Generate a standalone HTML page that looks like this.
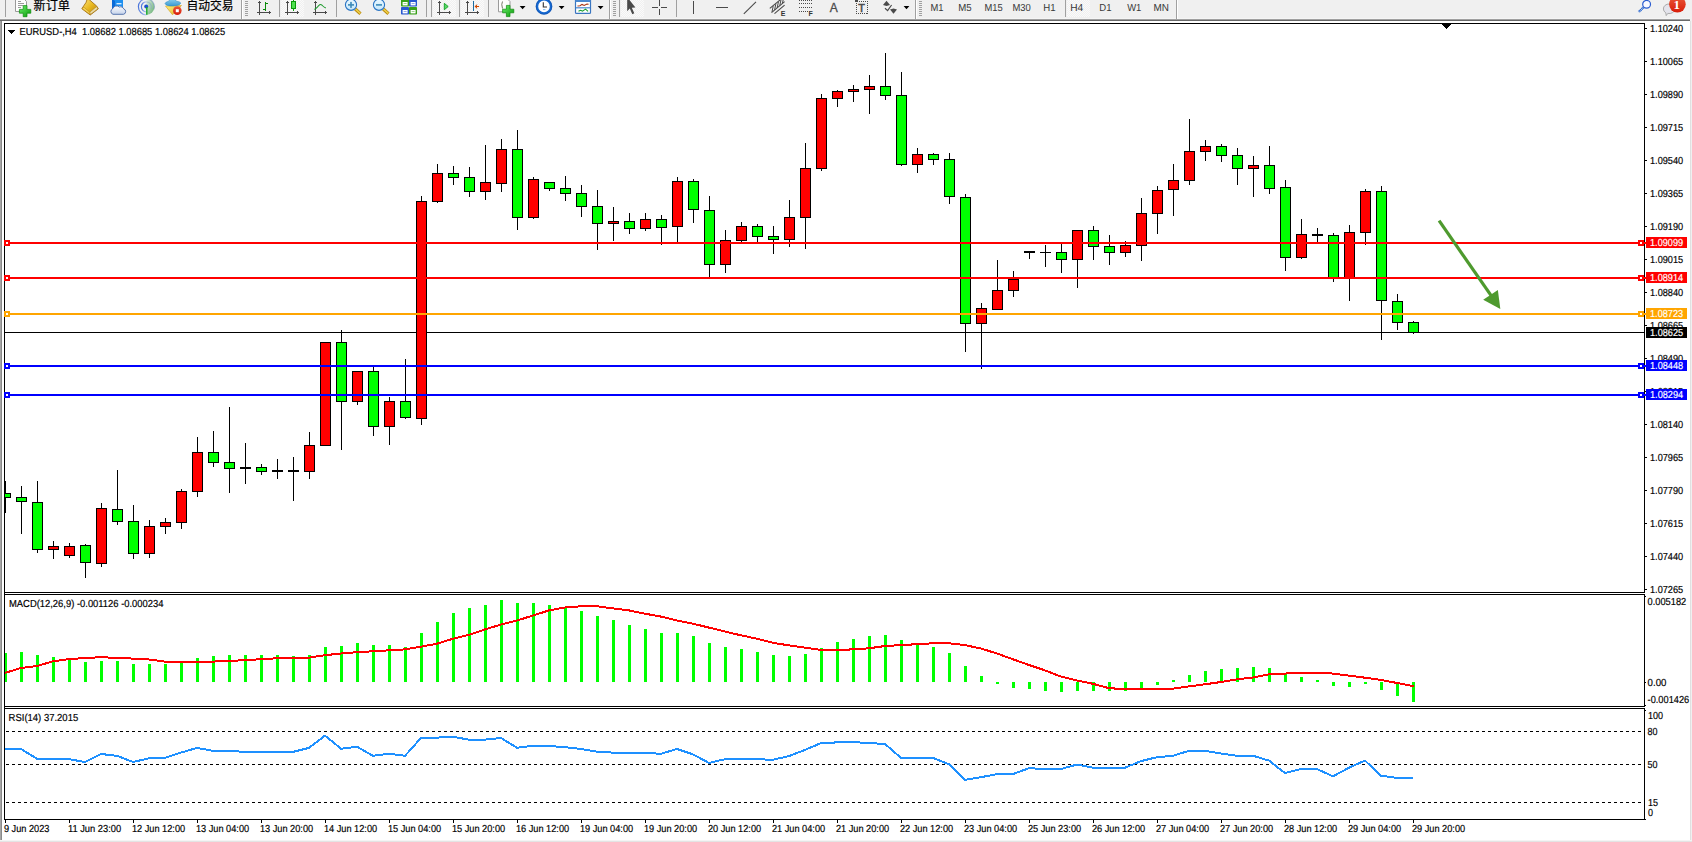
<!DOCTYPE html>
<html lang="zh-CN"><head><meta charset="utf-8"><title>EURUSD-,H4</title><style>html,body{margin:0;padding:0;background:#fff;overflow:hidden}svg text{font-kerning:normal}</style></head><body><svg width="1692" height="842" viewBox="0 0 1692 842" style="display:block"><rect x="0" y="0" width="1692" height="842" fill="#ffffff"/>
<rect x="0" y="0" width="1692" height="19" fill="#f0f0f0"/>
<rect x="0" y="18" width="1690" height="1" fill="#f5f5f5"/>
<rect x="0" y="19" width="1690" height="1" fill="#a0a0a0"/>
<rect x="0" y="20" width="1690" height="1" fill="#696969"/>
<rect x="0" y="21" width="1" height="819" fill="#a6a6a6"/>
<rect x="1" y="21" width="1" height="819" fill="#8a8a8a"/>
<rect x="1690" y="19" width="2" height="2" fill="#f0f0f0"/>
<rect x="1690" y="21" width="1" height="821" fill="#e0e0e0"/>
<rect x="1691" y="21" width="1" height="821" fill="#f0f0f0"/>
<rect x="0" y="840" width="1692" height="1" fill="#f4f4f4"/>
<rect x="0" y="841" width="1692" height="1" fill="#e4e4e4"/>
<rect x="4" y="23" width="1641" height="1" fill="#000"/>
<rect x="4" y="592" width="1641" height="1" fill="#000"/>
<rect x="4" y="23" width="1" height="570" fill="#000"/>
<rect x="1644" y="23" width="1" height="570" fill="#000"/>
<rect x="4" y="594" width="1641" height="1" fill="#000"/>
<rect x="4" y="706" width="1641" height="1" fill="#000"/>
<rect x="4" y="594" width="1" height="113" fill="#000"/>
<rect x="1644" y="594" width="1" height="113" fill="#000"/>
<rect x="4" y="708" width="1641" height="1" fill="#000"/>
<rect x="4" y="819" width="1641" height="1" fill="#000"/>
<rect x="4" y="708" width="1" height="112" fill="#000"/>
<rect x="1644" y="708" width="1" height="112" fill="#000"/>
<rect x="4" y="592" width="1" height="3" fill="#000"/>
<rect x="4" y="706" width="1" height="3" fill="#000"/>
<defs><clipPath id="cp"><rect x="5" y="24" width="1639" height="796"/></clipPath></defs>
<g clip-path="url(#cp)" shape-rendering="crispEdges">
<rect x="5" y="332" width="1641" height="1" fill="#000"/>
<rect x="5" y="481" width="1" height="32" fill="#000"/>
<rect x="0" y="493" width="11" height="5" fill="#000"/>
<rect x="1" y="494" width="9" height="3" fill="#00ff00"/>
<rect x="21" y="486" width="1" height="48" fill="#000"/>
<rect x="16" y="497" width="11" height="5" fill="#000"/>
<rect x="17" y="498" width="9" height="3" fill="#00ff00"/>
<rect x="37" y="481" width="1" height="72" fill="#000"/>
<rect x="32" y="502" width="11" height="48" fill="#000"/>
<rect x="33" y="503" width="9" height="46" fill="#00ff00"/>
<rect x="53" y="541" width="1" height="18" fill="#000"/>
<rect x="48" y="546" width="11" height="4" fill="#000"/>
<rect x="49" y="547" width="9" height="2" fill="#ff0000"/>
<rect x="69" y="543" width="1" height="15" fill="#000"/>
<rect x="64" y="546" width="11" height="10" fill="#000"/>
<rect x="65" y="547" width="9" height="8" fill="#ff0000"/>
<rect x="85" y="544" width="1" height="34" fill="#000"/>
<rect x="80" y="545" width="11" height="18" fill="#000"/>
<rect x="81" y="546" width="9" height="16" fill="#00ff00"/>
<rect x="101" y="503" width="1" height="64" fill="#000"/>
<rect x="96" y="508" width="11" height="56" fill="#000"/>
<rect x="97" y="509" width="9" height="54" fill="#ff0000"/>
<rect x="117" y="470" width="1" height="55" fill="#000"/>
<rect x="112" y="509" width="11" height="13" fill="#000"/>
<rect x="113" y="510" width="9" height="11" fill="#00ff00"/>
<rect x="133" y="505" width="1" height="54" fill="#000"/>
<rect x="128" y="521" width="11" height="33" fill="#000"/>
<rect x="129" y="522" width="9" height="31" fill="#00ff00"/>
<rect x="149" y="520" width="1" height="38" fill="#000"/>
<rect x="144" y="526" width="11" height="28" fill="#000"/>
<rect x="145" y="527" width="9" height="26" fill="#ff0000"/>
<rect x="165" y="518" width="1" height="16" fill="#000"/>
<rect x="160" y="522" width="11" height="5" fill="#000"/>
<rect x="161" y="523" width="9" height="3" fill="#ff0000"/>
<rect x="181" y="489" width="1" height="40" fill="#000"/>
<rect x="176" y="491" width="11" height="32" fill="#000"/>
<rect x="177" y="492" width="9" height="30" fill="#ff0000"/>
<rect x="197" y="437" width="1" height="60" fill="#000"/>
<rect x="192" y="452" width="11" height="40" fill="#000"/>
<rect x="193" y="453" width="9" height="38" fill="#ff0000"/>
<rect x="213" y="431" width="1" height="36" fill="#000"/>
<rect x="208" y="452" width="11" height="11" fill="#000"/>
<rect x="209" y="453" width="9" height="9" fill="#00ff00"/>
<rect x="229" y="407" width="1" height="86" fill="#000"/>
<rect x="224" y="462" width="11" height="7" fill="#000"/>
<rect x="225" y="463" width="9" height="5" fill="#00ff00"/>
<rect x="245" y="443" width="1" height="41" fill="#000"/>
<rect x="240" y="467" width="11" height="2" fill="#000"/>
<rect x="261" y="464" width="1" height="11" fill="#000"/>
<rect x="256" y="467" width="11" height="5" fill="#000"/>
<rect x="257" y="468" width="9" height="3" fill="#00ff00"/>
<rect x="277" y="459" width="1" height="20" fill="#000"/>
<rect x="272" y="470" width="11" height="2" fill="#000"/>
<rect x="293" y="457" width="1" height="44" fill="#000"/>
<rect x="288" y="470" width="11" height="2" fill="#000"/>
<rect x="309" y="432" width="1" height="47" fill="#000"/>
<rect x="304" y="445" width="11" height="27" fill="#000"/>
<rect x="305" y="446" width="9" height="25" fill="#ff0000"/>
<rect x="325" y="342" width="1" height="104" fill="#000"/>
<rect x="320" y="342" width="11" height="104" fill="#000"/>
<rect x="321" y="343" width="9" height="102" fill="#ff0000"/>
<rect x="341" y="330" width="1" height="120" fill="#000"/>
<rect x="336" y="342" width="11" height="60" fill="#000"/>
<rect x="337" y="343" width="9" height="58" fill="#00ff00"/>
<rect x="357" y="371" width="1" height="34" fill="#000"/>
<rect x="352" y="371" width="11" height="31" fill="#000"/>
<rect x="353" y="372" width="9" height="29" fill="#ff0000"/>
<rect x="373" y="367" width="1" height="69" fill="#000"/>
<rect x="368" y="371" width="11" height="56" fill="#000"/>
<rect x="369" y="372" width="9" height="54" fill="#00ff00"/>
<rect x="389" y="397" width="1" height="48" fill="#000"/>
<rect x="384" y="401" width="11" height="26" fill="#000"/>
<rect x="385" y="402" width="9" height="24" fill="#ff0000"/>
<rect x="405" y="359" width="1" height="60" fill="#000"/>
<rect x="400" y="401" width="11" height="17" fill="#000"/>
<rect x="401" y="402" width="9" height="15" fill="#00ff00"/>
<rect x="421" y="196" width="1" height="229" fill="#000"/>
<rect x="416" y="201" width="11" height="218" fill="#000"/>
<rect x="417" y="202" width="9" height="216" fill="#ff0000"/>
<rect x="437" y="164" width="1" height="39" fill="#000"/>
<rect x="432" y="173" width="11" height="29" fill="#000"/>
<rect x="433" y="174" width="9" height="27" fill="#ff0000"/>
<rect x="453" y="166" width="1" height="19" fill="#000"/>
<rect x="448" y="173" width="11" height="5" fill="#000"/>
<rect x="449" y="174" width="9" height="3" fill="#00ff00"/>
<rect x="469" y="167" width="1" height="30" fill="#000"/>
<rect x="464" y="177" width="11" height="15" fill="#000"/>
<rect x="465" y="178" width="9" height="13" fill="#00ff00"/>
<rect x="485" y="145" width="1" height="55" fill="#000"/>
<rect x="480" y="182" width="11" height="10" fill="#000"/>
<rect x="481" y="183" width="9" height="8" fill="#ff0000"/>
<rect x="501" y="139" width="1" height="53" fill="#000"/>
<rect x="496" y="149" width="11" height="35" fill="#000"/>
<rect x="497" y="150" width="9" height="33" fill="#ff0000"/>
<rect x="517" y="130" width="1" height="100" fill="#000"/>
<rect x="512" y="149" width="11" height="69" fill="#000"/>
<rect x="513" y="150" width="9" height="67" fill="#00ff00"/>
<rect x="533" y="177" width="1" height="42" fill="#000"/>
<rect x="528" y="179" width="11" height="39" fill="#000"/>
<rect x="529" y="180" width="9" height="37" fill="#ff0000"/>
<rect x="549" y="182" width="1" height="9" fill="#000"/>
<rect x="544" y="182" width="11" height="7" fill="#000"/>
<rect x="545" y="183" width="9" height="5" fill="#00ff00"/>
<rect x="565" y="176" width="1" height="25" fill="#000"/>
<rect x="560" y="188" width="11" height="6" fill="#000"/>
<rect x="561" y="189" width="9" height="4" fill="#00ff00"/>
<rect x="581" y="185" width="1" height="32" fill="#000"/>
<rect x="576" y="193" width="11" height="14" fill="#000"/>
<rect x="577" y="194" width="9" height="12" fill="#00ff00"/>
<rect x="597" y="190" width="1" height="60" fill="#000"/>
<rect x="592" y="206" width="11" height="18" fill="#000"/>
<rect x="593" y="207" width="9" height="16" fill="#00ff00"/>
<rect x="613" y="207" width="1" height="34" fill="#000"/>
<rect x="608" y="221" width="11" height="3" fill="#000"/>
<rect x="609" y="222" width="9" height="1" fill="#ff0000"/>
<rect x="629" y="213" width="1" height="21" fill="#000"/>
<rect x="624" y="221" width="11" height="8" fill="#000"/>
<rect x="625" y="222" width="9" height="6" fill="#00ff00"/>
<rect x="645" y="213" width="1" height="18" fill="#000"/>
<rect x="640" y="219" width="11" height="10" fill="#000"/>
<rect x="641" y="220" width="9" height="8" fill="#ff0000"/>
<rect x="661" y="215" width="1" height="30" fill="#000"/>
<rect x="656" y="219" width="11" height="9" fill="#000"/>
<rect x="657" y="220" width="9" height="7" fill="#00ff00"/>
<rect x="677" y="177" width="1" height="66" fill="#000"/>
<rect x="672" y="181" width="11" height="46" fill="#000"/>
<rect x="673" y="182" width="9" height="44" fill="#ff0000"/>
<rect x="693" y="179" width="1" height="44" fill="#000"/>
<rect x="688" y="181" width="11" height="29" fill="#000"/>
<rect x="689" y="182" width="9" height="27" fill="#00ff00"/>
<rect x="709" y="196" width="1" height="81" fill="#000"/>
<rect x="704" y="210" width="11" height="55" fill="#000"/>
<rect x="705" y="211" width="9" height="53" fill="#00ff00"/>
<rect x="725" y="230" width="1" height="43" fill="#000"/>
<rect x="720" y="240" width="11" height="25" fill="#000"/>
<rect x="721" y="241" width="9" height="23" fill="#ff0000"/>
<rect x="741" y="222" width="1" height="20" fill="#000"/>
<rect x="736" y="226" width="11" height="15" fill="#000"/>
<rect x="737" y="227" width="9" height="13" fill="#ff0000"/>
<rect x="757" y="224" width="1" height="18" fill="#000"/>
<rect x="752" y="226" width="11" height="11" fill="#000"/>
<rect x="753" y="227" width="9" height="9" fill="#00ff00"/>
<rect x="773" y="226" width="1" height="28" fill="#000"/>
<rect x="768" y="236" width="11" height="4" fill="#000"/>
<rect x="769" y="237" width="9" height="2" fill="#00ff00"/>
<rect x="789" y="200" width="1" height="47" fill="#000"/>
<rect x="784" y="217" width="11" height="23" fill="#000"/>
<rect x="785" y="218" width="9" height="21" fill="#ff0000"/>
<rect x="805" y="143" width="1" height="106" fill="#000"/>
<rect x="800" y="168" width="11" height="50" fill="#000"/>
<rect x="801" y="169" width="9" height="48" fill="#ff0000"/>
<rect x="821" y="94" width="1" height="77" fill="#000"/>
<rect x="816" y="98" width="11" height="71" fill="#000"/>
<rect x="817" y="99" width="9" height="69" fill="#ff0000"/>
<rect x="837" y="90" width="1" height="17" fill="#000"/>
<rect x="832" y="91" width="11" height="8" fill="#000"/>
<rect x="833" y="92" width="9" height="6" fill="#ff0000"/>
<rect x="853" y="85" width="1" height="17" fill="#000"/>
<rect x="848" y="89" width="11" height="3" fill="#000"/>
<rect x="849" y="90" width="9" height="1" fill="#ff0000"/>
<rect x="869" y="75" width="1" height="39" fill="#000"/>
<rect x="864" y="86" width="11" height="4" fill="#000"/>
<rect x="865" y="87" width="9" height="2" fill="#ff0000"/>
<rect x="885" y="53" width="1" height="47" fill="#000"/>
<rect x="880" y="86" width="11" height="10" fill="#000"/>
<rect x="881" y="87" width="9" height="8" fill="#00ff00"/>
<rect x="901" y="72" width="1" height="94" fill="#000"/>
<rect x="896" y="95" width="11" height="70" fill="#000"/>
<rect x="897" y="96" width="9" height="68" fill="#00ff00"/>
<rect x="917" y="148" width="1" height="25" fill="#000"/>
<rect x="912" y="154" width="11" height="11" fill="#000"/>
<rect x="913" y="155" width="9" height="9" fill="#ff0000"/>
<rect x="933" y="153" width="1" height="12" fill="#000"/>
<rect x="928" y="154" width="11" height="6" fill="#000"/>
<rect x="929" y="155" width="9" height="4" fill="#00ff00"/>
<rect x="949" y="153" width="1" height="51" fill="#000"/>
<rect x="944" y="159" width="11" height="38" fill="#000"/>
<rect x="945" y="160" width="9" height="36" fill="#00ff00"/>
<rect x="965" y="194" width="1" height="158" fill="#000"/>
<rect x="960" y="197" width="11" height="127" fill="#000"/>
<rect x="961" y="198" width="9" height="125" fill="#00ff00"/>
<rect x="981" y="303" width="1" height="66" fill="#000"/>
<rect x="976" y="308" width="11" height="16" fill="#000"/>
<rect x="977" y="309" width="9" height="14" fill="#ff0000"/>
<rect x="997" y="260" width="1" height="50" fill="#000"/>
<rect x="992" y="290" width="11" height="20" fill="#000"/>
<rect x="993" y="291" width="9" height="18" fill="#ff0000"/>
<rect x="1013" y="271" width="1" height="26" fill="#000"/>
<rect x="1008" y="279" width="11" height="12" fill="#000"/>
<rect x="1009" y="280" width="9" height="10" fill="#ff0000"/>
<rect x="1029" y="251" width="1" height="8" fill="#000"/>
<rect x="1024" y="251" width="11" height="2" fill="#000"/>
<rect x="1045" y="245" width="1" height="22" fill="#000"/>
<rect x="1040" y="252" width="11" height="1" fill="#000"/>
<rect x="1061" y="244" width="1" height="29" fill="#000"/>
<rect x="1056" y="252" width="11" height="8" fill="#000"/>
<rect x="1057" y="253" width="9" height="6" fill="#00ff00"/>
<rect x="1077" y="230" width="1" height="58" fill="#000"/>
<rect x="1072" y="230" width="11" height="30" fill="#000"/>
<rect x="1073" y="231" width="9" height="28" fill="#ff0000"/>
<rect x="1093" y="226" width="1" height="34" fill="#000"/>
<rect x="1088" y="230" width="11" height="17" fill="#000"/>
<rect x="1089" y="231" width="9" height="15" fill="#00ff00"/>
<rect x="1109" y="235" width="1" height="30" fill="#000"/>
<rect x="1104" y="246" width="11" height="7" fill="#000"/>
<rect x="1105" y="247" width="9" height="5" fill="#00ff00"/>
<rect x="1125" y="241" width="1" height="16" fill="#000"/>
<rect x="1120" y="245" width="11" height="8" fill="#000"/>
<rect x="1121" y="246" width="9" height="6" fill="#ff0000"/>
<rect x="1141" y="198" width="1" height="63" fill="#000"/>
<rect x="1136" y="213" width="11" height="33" fill="#000"/>
<rect x="1137" y="214" width="9" height="31" fill="#ff0000"/>
<rect x="1157" y="186" width="1" height="48" fill="#000"/>
<rect x="1152" y="190" width="11" height="24" fill="#000"/>
<rect x="1153" y="191" width="9" height="22" fill="#ff0000"/>
<rect x="1173" y="164" width="1" height="52" fill="#000"/>
<rect x="1168" y="180" width="11" height="10" fill="#000"/>
<rect x="1169" y="181" width="9" height="8" fill="#ff0000"/>
<rect x="1189" y="119" width="1" height="66" fill="#000"/>
<rect x="1184" y="151" width="11" height="30" fill="#000"/>
<rect x="1185" y="152" width="9" height="28" fill="#ff0000"/>
<rect x="1205" y="140" width="1" height="21" fill="#000"/>
<rect x="1200" y="146" width="11" height="6" fill="#000"/>
<rect x="1201" y="147" width="9" height="4" fill="#ff0000"/>
<rect x="1221" y="144" width="1" height="18" fill="#000"/>
<rect x="1216" y="146" width="11" height="10" fill="#000"/>
<rect x="1217" y="147" width="9" height="8" fill="#00ff00"/>
<rect x="1237" y="148" width="1" height="37" fill="#000"/>
<rect x="1232" y="155" width="11" height="14" fill="#000"/>
<rect x="1233" y="156" width="9" height="12" fill="#00ff00"/>
<rect x="1253" y="156" width="1" height="41" fill="#000"/>
<rect x="1248" y="165" width="11" height="4" fill="#000"/>
<rect x="1249" y="166" width="9" height="2" fill="#ff0000"/>
<rect x="1269" y="146" width="1" height="48" fill="#000"/>
<rect x="1264" y="165" width="11" height="24" fill="#000"/>
<rect x="1265" y="166" width="9" height="22" fill="#00ff00"/>
<rect x="1285" y="180" width="1" height="91" fill="#000"/>
<rect x="1280" y="187" width="11" height="71" fill="#000"/>
<rect x="1281" y="188" width="9" height="69" fill="#00ff00"/>
<rect x="1301" y="219" width="1" height="40" fill="#000"/>
<rect x="1296" y="234" width="11" height="24" fill="#000"/>
<rect x="1297" y="235" width="9" height="22" fill="#ff0000"/>
<rect x="1317" y="228" width="1" height="14" fill="#000"/>
<rect x="1312" y="234" width="11" height="2" fill="#000"/>
<rect x="1333" y="233" width="1" height="49" fill="#000"/>
<rect x="1328" y="235" width="11" height="43" fill="#000"/>
<rect x="1329" y="236" width="9" height="41" fill="#00ff00"/>
<rect x="1349" y="225" width="1" height="76" fill="#000"/>
<rect x="1344" y="232" width="11" height="46" fill="#000"/>
<rect x="1345" y="233" width="9" height="44" fill="#ff0000"/>
<rect x="1365" y="189" width="1" height="56" fill="#000"/>
<rect x="1360" y="191" width="11" height="42" fill="#000"/>
<rect x="1361" y="192" width="9" height="40" fill="#ff0000"/>
<rect x="1381" y="186" width="1" height="154" fill="#000"/>
<rect x="1376" y="191" width="11" height="110" fill="#000"/>
<rect x="1377" y="192" width="9" height="108" fill="#00ff00"/>
<rect x="1397" y="294" width="1" height="36" fill="#000"/>
<rect x="1392" y="301" width="11" height="22" fill="#000"/>
<rect x="1393" y="302" width="9" height="20" fill="#00ff00"/>
<rect x="1413" y="321" width="1" height="13" fill="#000"/>
<rect x="1408" y="322" width="11" height="11" fill="#000"/>
<rect x="1409" y="323" width="9" height="9" fill="#00ff00"/>
<rect x="4" y="653" width="3" height="29" fill="#00ff00"/>
<rect x="20" y="652" width="3" height="30" fill="#00ff00"/>
<rect x="36" y="655" width="3" height="27" fill="#00ff00"/>
<rect x="52" y="657" width="3" height="25" fill="#00ff00"/>
<rect x="68" y="660" width="3" height="22" fill="#00ff00"/>
<rect x="84" y="662" width="3" height="20" fill="#00ff00"/>
<rect x="100" y="661" width="3" height="21" fill="#00ff00"/>
<rect x="116" y="661" width="3" height="21" fill="#00ff00"/>
<rect x="132" y="664" width="3" height="18" fill="#00ff00"/>
<rect x="148" y="664" width="3" height="18" fill="#00ff00"/>
<rect x="164" y="664" width="3" height="18" fill="#00ff00"/>
<rect x="180" y="662" width="3" height="20" fill="#00ff00"/>
<rect x="196" y="658" width="3" height="24" fill="#00ff00"/>
<rect x="212" y="656" width="3" height="26" fill="#00ff00"/>
<rect x="228" y="655" width="3" height="27" fill="#00ff00"/>
<rect x="244" y="655" width="3" height="27" fill="#00ff00"/>
<rect x="260" y="655" width="3" height="27" fill="#00ff00"/>
<rect x="276" y="655" width="3" height="27" fill="#00ff00"/>
<rect x="292" y="656" width="3" height="26" fill="#00ff00"/>
<rect x="308" y="655" width="3" height="27" fill="#00ff00"/>
<rect x="324" y="647" width="3" height="35" fill="#00ff00"/>
<rect x="340" y="646" width="3" height="36" fill="#00ff00"/>
<rect x="356" y="643" width="3" height="39" fill="#00ff00"/>
<rect x="372" y="645" width="3" height="37" fill="#00ff00"/>
<rect x="388" y="645" width="3" height="37" fill="#00ff00"/>
<rect x="404" y="647" width="3" height="35" fill="#00ff00"/>
<rect x="420" y="633" width="3" height="49" fill="#00ff00"/>
<rect x="436" y="622" width="3" height="60" fill="#00ff00"/>
<rect x="452" y="613" width="3" height="69" fill="#00ff00"/>
<rect x="468" y="608" width="3" height="74" fill="#00ff00"/>
<rect x="484" y="605" width="3" height="77" fill="#00ff00"/>
<rect x="500" y="600" width="3" height="82" fill="#00ff00"/>
<rect x="516" y="603" width="3" height="79" fill="#00ff00"/>
<rect x="532" y="603" width="3" height="79" fill="#00ff00"/>
<rect x="548" y="605" width="3" height="77" fill="#00ff00"/>
<rect x="564" y="608" width="3" height="74" fill="#00ff00"/>
<rect x="580" y="611" width="3" height="71" fill="#00ff00"/>
<rect x="596" y="616" width="3" height="66" fill="#00ff00"/>
<rect x="612" y="620" width="3" height="62" fill="#00ff00"/>
<rect x="628" y="625" width="3" height="57" fill="#00ff00"/>
<rect x="644" y="629" width="3" height="53" fill="#00ff00"/>
<rect x="660" y="633" width="3" height="49" fill="#00ff00"/>
<rect x="676" y="633" width="3" height="49" fill="#00ff00"/>
<rect x="692" y="636" width="3" height="46" fill="#00ff00"/>
<rect x="708" y="643" width="3" height="39" fill="#00ff00"/>
<rect x="724" y="647" width="3" height="35" fill="#00ff00"/>
<rect x="740" y="649" width="3" height="33" fill="#00ff00"/>
<rect x="756" y="652" width="3" height="30" fill="#00ff00"/>
<rect x="772" y="655" width="3" height="27" fill="#00ff00"/>
<rect x="788" y="656" width="3" height="26" fill="#00ff00"/>
<rect x="804" y="654" width="3" height="28" fill="#00ff00"/>
<rect x="820" y="648" width="3" height="34" fill="#00ff00"/>
<rect x="836" y="642" width="3" height="40" fill="#00ff00"/>
<rect x="852" y="639" width="3" height="43" fill="#00ff00"/>
<rect x="868" y="636" width="3" height="46" fill="#00ff00"/>
<rect x="884" y="635" width="3" height="47" fill="#00ff00"/>
<rect x="900" y="640" width="3" height="42" fill="#00ff00"/>
<rect x="916" y="643" width="3" height="39" fill="#00ff00"/>
<rect x="932" y="647" width="3" height="35" fill="#00ff00"/>
<rect x="948" y="653" width="3" height="29" fill="#00ff00"/>
<rect x="964" y="666" width="3" height="16" fill="#00ff00"/>
<rect x="980" y="676" width="3" height="6" fill="#00ff00"/>
<rect x="996" y="682" width="3" height="2" fill="#00ff00"/>
<rect x="1012" y="682" width="3" height="6" fill="#00ff00"/>
<rect x="1028" y="682" width="3" height="7" fill="#00ff00"/>
<rect x="1044" y="682" width="3" height="9" fill="#00ff00"/>
<rect x="1060" y="682" width="3" height="10" fill="#00ff00"/>
<rect x="1076" y="682" width="3" height="9" fill="#00ff00"/>
<rect x="1092" y="682" width="3" height="9" fill="#00ff00"/>
<rect x="1108" y="682" width="3" height="9" fill="#00ff00"/>
<rect x="1124" y="682" width="3" height="9" fill="#00ff00"/>
<rect x="1140" y="682" width="3" height="6" fill="#00ff00"/>
<rect x="1156" y="682" width="3" height="3" fill="#00ff00"/>
<rect x="1172" y="680" width="3" height="2" fill="#00ff00"/>
<rect x="1188" y="675" width="3" height="7" fill="#00ff00"/>
<rect x="1204" y="671" width="3" height="11" fill="#00ff00"/>
<rect x="1220" y="669" width="3" height="13" fill="#00ff00"/>
<rect x="1236" y="668" width="3" height="14" fill="#00ff00"/>
<rect x="1252" y="667" width="3" height="15" fill="#00ff00"/>
<rect x="1268" y="668" width="3" height="14" fill="#00ff00"/>
<rect x="1284" y="674" width="3" height="8" fill="#00ff00"/>
<rect x="1300" y="677" width="3" height="5" fill="#00ff00"/>
<rect x="1316" y="680" width="3" height="2" fill="#00ff00"/>
<rect x="1332" y="682" width="3" height="4" fill="#00ff00"/>
<rect x="1348" y="682" width="3" height="5" fill="#00ff00"/>
<rect x="1364" y="682" width="3" height="2" fill="#00ff00"/>
<rect x="1380" y="682" width="3" height="8" fill="#00ff00"/>
<rect x="1396" y="682" width="3" height="14" fill="#00ff00"/>
<rect x="1412" y="682" width="3" height="20" fill="#00ff00"/>
<polyline points="5,672.9 21,668.0 37,666.0 53,661.3 69,659.1 85,658.0 101,657.2 117,657.9 133,658.6 149,659.5 165,661.6 181,661.6 197,661.6 213,661.6 229,660.9 245,660.2 261,659.2 277,658.3 293,657.9 309,657.6 325,655.2 341,653.5 357,652.2 373,651.3 389,650.3 405,649.4 421,646.7 437,643.7 453,638.7 469,634.8 485,629.4 501,624.6 517,620.5 533,615.5 549,610.4 565,607.5 581,606.3 597,606.3 613,608.4 629,610.4 645,613.7 661,616.6 677,620.5 693,623.7 709,627.6 725,631.6 741,635.3 757,638.7 773,642.8 789,645.4 805,647.6 821,649.9 837,649.9 853,649.4 869,648.3 885,646.0 901,645.1 917,644.2 933,643.3 949,643.3 965,645.1 981,648.5 997,653.5 1013,659.3 1029,665.0 1045,670.4 1061,676.6 1077,680.5 1093,683.8 1109,688.2 1125,689.1 1141,689.1 1157,689.1 1173,688.7 1189,686.4 1205,684.3 1221,682.0 1237,679.3 1253,677.5 1269,674.3 1285,673.6 1301,672.5 1317,672.5 1333,673.6 1349,675.6 1365,677.7 1381,679.9 1397,683.0 1413,686.0" fill="none" stroke="#ff0000" stroke-width="2" stroke-linejoin="round" stroke-linecap="square"/>
<line x1="6" y1="731.5" x2="1644" y2="731.5" stroke="#000" stroke-width="1" stroke-dasharray="3 3"/>
<line x1="6" y1="764.5" x2="1644" y2="764.5" stroke="#000" stroke-width="1" stroke-dasharray="3 3"/>
<line x1="6" y1="802.5" x2="1644" y2="802.5" stroke="#000" stroke-width="1" stroke-dasharray="3 3"/>
<polyline points="5,749.0 21,749.0 37,758.8 53,758.8 69,759.2 85,762.0 101,754.0 117,755.8 133,762.0 149,758.3 165,757.9 181,752.6 197,747.9 213,750.8 229,750.8 245,751.9 261,751.9 277,751.9 293,751.9 309,747.9 325,735.6 341,748.7 357,746.7 373,755.8 389,753.8 405,755.8 421,738.0 437,737.6 453,736.9 469,739.6 485,739.6 501,738.0 517,747.8 533,745.8 549,746.0 565,747.2 581,749.0 597,751.7 613,752.6 629,752.9 645,752.9 661,753.8 677,749.0 693,754.4 709,762.9 725,759.2 741,758.8 757,759.3 773,759.7 789,756.1 805,749.9 821,743.1 837,742.4 853,742.1 869,743.0 885,744.0 901,757.9 917,757.9 933,757.9 949,764.2 965,779.8 981,777.2 997,774.1 1013,774.0 1029,768.2 1045,769.0 1061,769.0 1077,764.5 1093,767.7 1109,768.1 1125,767.7 1141,761.1 1157,757.2 1173,755.8 1189,750.8 1205,750.8 1221,753.5 1237,755.8 1253,755.8 1269,760.6 1285,773.1 1301,769.1 1317,769.1 1333,776.3 1349,767.7 1365,760.6 1381,775.7 1397,777.9 1413,777.9" fill="none" stroke="#1e90ff" stroke-width="2" stroke-linejoin="round"/>
</g>
<g shape-rendering="crispEdges">
<rect x="5" y="242" width="1641" height="2" fill="#ff0000"/>
<rect x="4" y="240" width="6" height="6" fill="#ff0000"/>
<rect x="6" y="242" width="2" height="2" fill="#fff"/>
<rect x="1638" y="240" width="6" height="6" fill="#ff0000"/>
<rect x="1640" y="242" width="2" height="2" fill="#fff"/>
<rect x="1646" y="237" width="41" height="11" fill="#ff0000"/>
<rect x="5" y="277" width="1641" height="2" fill="#ff0000"/>
<rect x="4" y="275" width="6" height="6" fill="#ff0000"/>
<rect x="6" y="277" width="2" height="2" fill="#fff"/>
<rect x="1638" y="275" width="6" height="6" fill="#ff0000"/>
<rect x="1640" y="277" width="2" height="2" fill="#fff"/>
<rect x="1646" y="272" width="41" height="11" fill="#ff0000"/>
<rect x="5" y="313" width="1641" height="2" fill="#ffa500"/>
<rect x="4" y="311" width="6" height="6" fill="#ffa500"/>
<rect x="6" y="313" width="2" height="2" fill="#fff"/>
<rect x="1638" y="311" width="6" height="6" fill="#ffa500"/>
<rect x="1640" y="313" width="2" height="2" fill="#fff"/>
<rect x="1646" y="308" width="41" height="11" fill="#ffa500"/>
<rect x="5" y="365" width="1641" height="2" fill="#0000ff"/>
<rect x="4" y="363" width="6" height="6" fill="#0000ff"/>
<rect x="6" y="365" width="2" height="2" fill="#fff"/>
<rect x="1638" y="363" width="6" height="6" fill="#0000ff"/>
<rect x="1640" y="365" width="2" height="2" fill="#fff"/>
<rect x="1646" y="360" width="41" height="11" fill="#0000ff"/>
<rect x="5" y="394" width="1641" height="2" fill="#0000ff"/>
<rect x="4" y="392" width="6" height="6" fill="#0000ff"/>
<rect x="6" y="394" width="2" height="2" fill="#fff"/>
<rect x="1638" y="392" width="6" height="6" fill="#0000ff"/>
<rect x="1640" y="394" width="2" height="2" fill="#fff"/>
<rect x="1646" y="389" width="41" height="11" fill="#0000ff"/>
<rect x="1646" y="327" width="41" height="11" fill="#000"/>
<polygon points="1441,23 1452,23 1446.5,29" fill="#000" shape-rendering="crispEdges"/>
<rect x="1645" y="28" width="2" height="1" fill="#000"/>
<rect x="1645" y="61" width="2" height="1" fill="#000"/>
<rect x="1645" y="94" width="2" height="1" fill="#000"/>
<rect x="1645" y="127" width="2" height="1" fill="#000"/>
<rect x="1645" y="160" width="2" height="1" fill="#000"/>
<rect x="1645" y="193" width="2" height="1" fill="#000"/>
<rect x="1645" y="226" width="2" height="1" fill="#000"/>
<rect x="1645" y="259" width="2" height="1" fill="#000"/>
<rect x="1645" y="292" width="2" height="1" fill="#000"/>
<rect x="1645" y="325" width="2" height="1" fill="#000"/>
<rect x="1645" y="358" width="2" height="1" fill="#000"/>
<rect x="1645" y="391" width="2" height="1" fill="#000"/>
<rect x="1645" y="424" width="2" height="1" fill="#000"/>
<rect x="1645" y="457" width="2" height="1" fill="#000"/>
<rect x="1645" y="490" width="2" height="1" fill="#000"/>
<rect x="1645" y="523" width="2" height="1" fill="#000"/>
<rect x="1645" y="556" width="2" height="1" fill="#000"/>
<rect x="1645" y="589" width="2" height="1" fill="#000"/>
<rect x="1645" y="596" width="1" height="1" fill="#000"/>
<rect x="1645" y="682" width="1" height="1" fill="#000"/>
<rect x="1645" y="705" width="1" height="1" fill="#000"/>
<rect x="1645" y="710" width="1" height="1" fill="#000"/>
<rect x="1645" y="819" width="1" height="1" fill="#000"/>
<rect x="5" y="820" width="1" height="3" fill="#000"/>
<rect x="69" y="820" width="1" height="3" fill="#000"/>
<rect x="133" y="820" width="1" height="3" fill="#000"/>
<rect x="197" y="820" width="1" height="3" fill="#000"/>
<rect x="261" y="820" width="1" height="3" fill="#000"/>
<rect x="325" y="820" width="1" height="3" fill="#000"/>
<rect x="389" y="820" width="1" height="3" fill="#000"/>
<rect x="453" y="820" width="1" height="3" fill="#000"/>
<rect x="517" y="820" width="1" height="3" fill="#000"/>
<rect x="581" y="820" width="1" height="3" fill="#000"/>
<rect x="645" y="820" width="1" height="3" fill="#000"/>
<rect x="709" y="820" width="1" height="3" fill="#000"/>
<rect x="773" y="820" width="1" height="3" fill="#000"/>
<rect x="837" y="820" width="1" height="3" fill="#000"/>
<rect x="901" y="820" width="1" height="3" fill="#000"/>
<rect x="965" y="820" width="1" height="3" fill="#000"/>
<rect x="1029" y="820" width="1" height="3" fill="#000"/>
<rect x="1093" y="820" width="1" height="3" fill="#000"/>
<rect x="1157" y="820" width="1" height="3" fill="#000"/>
<rect x="1221" y="820" width="1" height="3" fill="#000"/>
<rect x="1285" y="820" width="1" height="3" fill="#000"/>
<rect x="1349" y="820" width="1" height="3" fill="#000"/>
<rect x="1413" y="820" width="1" height="3" fill="#000"/>
</g>
<line x1="1439.1" y1="220.7" x2="1491.5" y2="296.2" stroke="#4e9a2e" stroke-width="3.2"/>
<polygon points="1500.3,309.1 1483.2,299.7 1497.9,290.1" fill="#4e9a2e"/>
<g font-family='"Liberation Sans", sans-serif' style="text-rendering:geometricPrecision">
<text x="1650" y="32" font-size="10.2" fill="#000" stroke="#000" stroke-width="0.18" textLength="33.2" lengthAdjust="spacingAndGlyphs" xml:space="preserve" style="white-space:pre">1.10240</text>
<text x="1650" y="65" font-size="10.2" fill="#000" stroke="#000" stroke-width="0.18" textLength="33.2" lengthAdjust="spacingAndGlyphs" xml:space="preserve" style="white-space:pre">1.10065</text>
<text x="1650" y="98" font-size="10.2" fill="#000" stroke="#000" stroke-width="0.18" textLength="33.2" lengthAdjust="spacingAndGlyphs" xml:space="preserve" style="white-space:pre">1.09890</text>
<text x="1650" y="131" font-size="10.2" fill="#000" stroke="#000" stroke-width="0.18" textLength="33.2" lengthAdjust="spacingAndGlyphs" xml:space="preserve" style="white-space:pre">1.09715</text>
<text x="1650" y="164" font-size="10.2" fill="#000" stroke="#000" stroke-width="0.18" textLength="33.2" lengthAdjust="spacingAndGlyphs" xml:space="preserve" style="white-space:pre">1.09540</text>
<text x="1650" y="197" font-size="10.2" fill="#000" stroke="#000" stroke-width="0.18" textLength="33.2" lengthAdjust="spacingAndGlyphs" xml:space="preserve" style="white-space:pre">1.09365</text>
<text x="1650" y="230" font-size="10.2" fill="#000" stroke="#000" stroke-width="0.18" textLength="33.2" lengthAdjust="spacingAndGlyphs" xml:space="preserve" style="white-space:pre">1.09190</text>
<text x="1650" y="263" font-size="10.2" fill="#000" stroke="#000" stroke-width="0.18" textLength="33.2" lengthAdjust="spacingAndGlyphs" xml:space="preserve" style="white-space:pre">1.09015</text>
<text x="1650" y="296" font-size="10.2" fill="#000" stroke="#000" stroke-width="0.18" textLength="33.2" lengthAdjust="spacingAndGlyphs" xml:space="preserve" style="white-space:pre">1.08840</text>
<text x="1650" y="329" font-size="10.2" fill="#000" stroke="#000" stroke-width="0.18" textLength="33.2" lengthAdjust="spacingAndGlyphs" xml:space="preserve" style="white-space:pre">1.08665</text>
<text x="1650" y="362" font-size="10.2" fill="#000" stroke="#000" stroke-width="0.18" textLength="33.2" lengthAdjust="spacingAndGlyphs" xml:space="preserve" style="white-space:pre">1.08490</text>
<text x="1650" y="395" font-size="10.2" fill="#000" stroke="#000" stroke-width="0.18" textLength="33.2" lengthAdjust="spacingAndGlyphs" xml:space="preserve" style="white-space:pre">1.08315</text>
<text x="1650" y="428" font-size="10.2" fill="#000" stroke="#000" stroke-width="0.18" textLength="33.2" lengthAdjust="spacingAndGlyphs" xml:space="preserve" style="white-space:pre">1.08140</text>
<text x="1650" y="461" font-size="10.2" fill="#000" stroke="#000" stroke-width="0.18" textLength="33.2" lengthAdjust="spacingAndGlyphs" xml:space="preserve" style="white-space:pre">1.07965</text>
<text x="1650" y="494" font-size="10.2" fill="#000" stroke="#000" stroke-width="0.18" textLength="33.2" lengthAdjust="spacingAndGlyphs" xml:space="preserve" style="white-space:pre">1.07790</text>
<text x="1650" y="527" font-size="10.2" fill="#000" stroke="#000" stroke-width="0.18" textLength="33.2" lengthAdjust="spacingAndGlyphs" xml:space="preserve" style="white-space:pre">1.07615</text>
<text x="1650" y="560" font-size="10.2" fill="#000" stroke="#000" stroke-width="0.18" textLength="33.2" lengthAdjust="spacingAndGlyphs" xml:space="preserve" style="white-space:pre">1.07440</text>
<text x="1650" y="593" font-size="10.2" fill="#000" stroke="#000" stroke-width="0.18" textLength="33.2" lengthAdjust="spacingAndGlyphs" xml:space="preserve" style="white-space:pre">1.07265</text>
<g shape-rendering="crispEdges">
<rect x="1646" y="237" width="41" height="11" fill="#ff0000"/>
<rect x="1646" y="272" width="41" height="11" fill="#ff0000"/>
<rect x="1646" y="308" width="41" height="11" fill="#ffa500"/>
<rect x="1646" y="360" width="41" height="11" fill="#0000ff"/>
<rect x="1646" y="389" width="41" height="11" fill="#0000ff"/>
<rect x="1646" y="327" width="41" height="11" fill="#000"/>
</g>
<text x="1650" y="246" font-size="10.2" fill="#fff" stroke="#fff" stroke-width="0.18" textLength="33.2" lengthAdjust="spacingAndGlyphs" xml:space="preserve" style="white-space:pre">1.09099</text>
<text x="1650" y="281" font-size="10.2" fill="#fff" stroke="#fff" stroke-width="0.18" textLength="33.2" lengthAdjust="spacingAndGlyphs" xml:space="preserve" style="white-space:pre">1.08914</text>
<text x="1650" y="317" font-size="10.2" fill="#fff" stroke="#fff" stroke-width="0.18" textLength="33.2" lengthAdjust="spacingAndGlyphs" xml:space="preserve" style="white-space:pre">1.08723</text>
<text x="1650" y="369" font-size="10.2" fill="#fff" stroke="#fff" stroke-width="0.18" textLength="33.2" lengthAdjust="spacingAndGlyphs" xml:space="preserve" style="white-space:pre">1.08448</text>
<text x="1650" y="398" font-size="10.2" fill="#fff" stroke="#fff" stroke-width="0.18" textLength="33.2" lengthAdjust="spacingAndGlyphs" xml:space="preserve" style="white-space:pre">1.08294</text>
<text x="1650" y="336" font-size="10.2" fill="#fff" stroke="#fff" stroke-width="0.18" textLength="33.2" lengthAdjust="spacingAndGlyphs" xml:space="preserve" style="white-space:pre">1.08625</text>
<text x="1647.6" y="605" font-size="10.2" fill="#000" stroke="#000" stroke-width="0.18" textLength="38.6" lengthAdjust="spacingAndGlyphs" xml:space="preserve" style="white-space:pre">0.005182</text>
<text x="1647.6" y="686" font-size="10.2" fill="#000" stroke="#000" stroke-width="0.18" textLength="18.8" lengthAdjust="spacingAndGlyphs" xml:space="preserve" style="white-space:pre">0.00</text>
<text x="1647.6" y="703" font-size="10.2" fill="#000" stroke="#000" stroke-width="0.18" textLength="41.6" lengthAdjust="spacingAndGlyphs" xml:space="preserve" style="white-space:pre">-0.001426</text>
<text x="1648" y="719" font-size="10.2" fill="#000" stroke="#000" stroke-width="0.18" textLength="15" lengthAdjust="spacingAndGlyphs" xml:space="preserve" style="white-space:pre">100</text>
<text x="1647.6" y="735" font-size="10.2" fill="#000" stroke="#000" stroke-width="0.18" textLength="10" lengthAdjust="spacingAndGlyphs" xml:space="preserve" style="white-space:pre">80</text>
<text x="1647.6" y="768" font-size="10.2" fill="#000" stroke="#000" stroke-width="0.18" textLength="10" lengthAdjust="spacingAndGlyphs" xml:space="preserve" style="white-space:pre">50</text>
<text x="1648" y="806" font-size="10.2" fill="#000" stroke="#000" stroke-width="0.18" textLength="10" lengthAdjust="spacingAndGlyphs" xml:space="preserve" style="white-space:pre">15</text>
<text x="1648" y="816" font-size="10.2" fill="#000" stroke="#000" stroke-width="0.18" textLength="5" lengthAdjust="spacingAndGlyphs" xml:space="preserve" style="white-space:pre">0</text>
<text x="19.6" y="35" font-size="10.2" fill="#000" stroke="#000" stroke-width="0.18" textLength="205.6" lengthAdjust="spacingAndGlyphs" xml:space="preserve" style="white-space:pre">EURUSD-,H4  1.08682 1.08685 1.08624 1.08625</text>
<text x="9" y="607" font-size="10.2" fill="#000" stroke="#000" stroke-width="0.18" textLength="154.5" lengthAdjust="spacingAndGlyphs" xml:space="preserve" style="white-space:pre">MACD(12,26,9) -0.001126 -0.000234</text>
<text x="8.6" y="721" font-size="10.2" fill="#000" stroke="#000" stroke-width="0.18" textLength="69.6" lengthAdjust="spacingAndGlyphs" xml:space="preserve" style="white-space:pre">RSI(14) 37.2015</text>
<polygon points="8,30 15,30 11.5,34" fill="#000" shape-rendering="crispEdges"/>
<text x="3.9" y="832" font-size="10.2" fill="#000" stroke="#000" stroke-width="0.18" textLength="45.5" lengthAdjust="spacingAndGlyphs" xml:space="preserve" style="white-space:pre">9 Jun 2023</text>
<text x="67.9" y="832" font-size="10.2" fill="#000" stroke="#000" stroke-width="0.18" textLength="53.3" lengthAdjust="spacingAndGlyphs" xml:space="preserve" style="white-space:pre">11 Jun 23:00</text>
<text x="131.9" y="832" font-size="10.2" fill="#000" stroke="#000" stroke-width="0.18" textLength="53.3" lengthAdjust="spacingAndGlyphs" xml:space="preserve" style="white-space:pre">12 Jun 12:00</text>
<text x="195.9" y="832" font-size="10.2" fill="#000" stroke="#000" stroke-width="0.18" textLength="53.3" lengthAdjust="spacingAndGlyphs" xml:space="preserve" style="white-space:pre">13 Jun 04:00</text>
<text x="259.9" y="832" font-size="10.2" fill="#000" stroke="#000" stroke-width="0.18" textLength="53.3" lengthAdjust="spacingAndGlyphs" xml:space="preserve" style="white-space:pre">13 Jun 20:00</text>
<text x="323.9" y="832" font-size="10.2" fill="#000" stroke="#000" stroke-width="0.18" textLength="53.3" lengthAdjust="spacingAndGlyphs" xml:space="preserve" style="white-space:pre">14 Jun 12:00</text>
<text x="387.9" y="832" font-size="10.2" fill="#000" stroke="#000" stroke-width="0.18" textLength="53.3" lengthAdjust="spacingAndGlyphs" xml:space="preserve" style="white-space:pre">15 Jun 04:00</text>
<text x="451.9" y="832" font-size="10.2" fill="#000" stroke="#000" stroke-width="0.18" textLength="53.3" lengthAdjust="spacingAndGlyphs" xml:space="preserve" style="white-space:pre">15 Jun 20:00</text>
<text x="515.9" y="832" font-size="10.2" fill="#000" stroke="#000" stroke-width="0.18" textLength="53.3" lengthAdjust="spacingAndGlyphs" xml:space="preserve" style="white-space:pre">16 Jun 12:00</text>
<text x="579.9" y="832" font-size="10.2" fill="#000" stroke="#000" stroke-width="0.18" textLength="53.3" lengthAdjust="spacingAndGlyphs" xml:space="preserve" style="white-space:pre">19 Jun 04:00</text>
<text x="643.9" y="832" font-size="10.2" fill="#000" stroke="#000" stroke-width="0.18" textLength="53.3" lengthAdjust="spacingAndGlyphs" xml:space="preserve" style="white-space:pre">19 Jun 20:00</text>
<text x="707.9" y="832" font-size="10.2" fill="#000" stroke="#000" stroke-width="0.18" textLength="53.3" lengthAdjust="spacingAndGlyphs" xml:space="preserve" style="white-space:pre">20 Jun 12:00</text>
<text x="771.9" y="832" font-size="10.2" fill="#000" stroke="#000" stroke-width="0.18" textLength="53.3" lengthAdjust="spacingAndGlyphs" xml:space="preserve" style="white-space:pre">21 Jun 04:00</text>
<text x="835.9" y="832" font-size="10.2" fill="#000" stroke="#000" stroke-width="0.18" textLength="53.3" lengthAdjust="spacingAndGlyphs" xml:space="preserve" style="white-space:pre">21 Jun 20:00</text>
<text x="899.9" y="832" font-size="10.2" fill="#000" stroke="#000" stroke-width="0.18" textLength="53.3" lengthAdjust="spacingAndGlyphs" xml:space="preserve" style="white-space:pre">22 Jun 12:00</text>
<text x="963.9" y="832" font-size="10.2" fill="#000" stroke="#000" stroke-width="0.18" textLength="53.3" lengthAdjust="spacingAndGlyphs" xml:space="preserve" style="white-space:pre">23 Jun 04:00</text>
<text x="1027.9" y="832" font-size="10.2" fill="#000" stroke="#000" stroke-width="0.18" textLength="53.3" lengthAdjust="spacingAndGlyphs" xml:space="preserve" style="white-space:pre">25 Jun 23:00</text>
<text x="1091.9" y="832" font-size="10.2" fill="#000" stroke="#000" stroke-width="0.18" textLength="53.3" lengthAdjust="spacingAndGlyphs" xml:space="preserve" style="white-space:pre">26 Jun 12:00</text>
<text x="1155.9" y="832" font-size="10.2" fill="#000" stroke="#000" stroke-width="0.18" textLength="53.3" lengthAdjust="spacingAndGlyphs" xml:space="preserve" style="white-space:pre">27 Jun 04:00</text>
<text x="1219.9" y="832" font-size="10.2" fill="#000" stroke="#000" stroke-width="0.18" textLength="53.3" lengthAdjust="spacingAndGlyphs" xml:space="preserve" style="white-space:pre">27 Jun 20:00</text>
<text x="1283.9" y="832" font-size="10.2" fill="#000" stroke="#000" stroke-width="0.18" textLength="53.3" lengthAdjust="spacingAndGlyphs" xml:space="preserve" style="white-space:pre">28 Jun 12:00</text>
<text x="1347.9" y="832" font-size="10.2" fill="#000" stroke="#000" stroke-width="0.18" textLength="53.3" lengthAdjust="spacingAndGlyphs" xml:space="preserve" style="white-space:pre">29 Jun 04:00</text>
<text x="1411.9" y="832" font-size="10.2" fill="#000" stroke="#000" stroke-width="0.18" textLength="53.3" lengthAdjust="spacingAndGlyphs" xml:space="preserve" style="white-space:pre">29 Jun 20:00</text>
</g>
<defs><clipPath id="tb"><rect x="0" y="0" width="1692" height="19"/></clipPath><linearGradient id="gplus" x1="0" y1="0" x2="1" y2="1"><stop offset="0" stop-color="#6cf06c"/><stop offset="1" stop-color="#0a9a0a"/></linearGradient><linearGradient id="gold" x1="0" y1="0" x2="1" y2="1"><stop offset="0" stop-color="#ffe680"/><stop offset=".5" stop-color="#e8b820"/><stop offset="1" stop-color="#b07808"/></linearGradient><linearGradient id="cloud" x1="0" y1="0" x2="0" y2="1"><stop offset="0" stop-color="#ffffff"/><stop offset="1" stop-color="#c4d2ea"/></linearGradient><linearGradient id="lens" x1="0" y1="0" x2="0" y2="1"><stop offset="0" stop-color="#eaf8ff"/><stop offset="1" stop-color="#c4e6fa"/></linearGradient><linearGradient id="redb" x1="0" y1="0" x2="0" y2="1"><stop offset="0" stop-color="#ea5a3a"/><stop offset="1" stop-color="#d81c08"/></linearGradient><linearGradient id="hat" x1="0" y1="0" x2="0" y2="1"><stop offset="0" stop-color="#8ad0f0"/><stop offset="1" stop-color="#3a98d0"/></linearGradient><linearGradient id="face" x1="0" y1="0" x2="1" y2="1"><stop offset="0" stop-color="#fff080"/><stop offset="1" stop-color="#e0b020"/></linearGradient><pattern id="chk" width="2" height="2" patternUnits="userSpaceOnUse"><rect width="2" height="2" fill="#f0f0f0"/><rect width="1" height="1" fill="#fafafa"/><rect x="1" y="1" width="1" height="1" fill="#fafafa"/></pattern></defs>
<g clip-path="url(#tb)">
<rect x="5" y="0" width="1" height="17" fill="#a0a0a0" shape-rendering="crispEdges"/>
<path d="M15.5,-2 H23 L26.5,1.5 V11.5 H15.5 Z" fill="#fdfdfd" stroke="#9a9a9a" stroke-width="1"/>
<g fill="#9a9a9a" shape-rendering="crispEdges"><rect x="18" y="1" width="3" height="1"/><rect x="18" y="3" width="6" height="1"/><rect x="18" y="5" width="5" height="1"/><rect x="18" y="7" width="3" height="1"/></g>
<path d="M23.2,5.6 h3.8 v3.8 h3.8 v3.8 h-3.8 v3.5 h-3.8 v-3.5 h-3.8 v-3.8 h3.8 z" fill="url(#gplus)" stroke="#0c8a0c" stroke-width=".7"/>
<text x="33.5" y="9.6" font-family='"Liberation Sans","Noto Sans CJK SC",sans-serif' font-size="12.3" fill="#000" stroke="#000" stroke-width=".2" textLength="36.5" lengthAdjust="spacingAndGlyphs">新订单</text>
<path d="M88,-1.5 L96.8,6.2 L98.3,8.8 L90.2,15 L81.8,8.7 L86,2.5 L87.4,-1.5 Z" fill="url(#gold)" stroke="#9a6408" stroke-width=".8"/>
<path d="M96.6,6.6 L97.9,8.8 L90.3,14.5 L89.6,12.3 Z" fill="#eadca8" stroke="#a87810" stroke-width=".5"/>
<path d="M82.3,8.7 L83.8,7.1 L89.7,12.2 L90.2,14.5 Z" fill="#f6d458" stroke="#b07c10" stroke-width=".5"/>
<path d="M112,-1 H123 V9 H112 Z" fill="#1e90f0"/>
<path d="M112,-1 l3,2 V9 h-3 z" fill="#0a6ad8"/>
<rect x="116.5" y="3" width="5" height="1.4" fill="#d8ecff"/><rect x="116.5" y="6" width="5" height="1" fill="#bfe0ff"/>
<path d="M113,14.3 a3,3 0 0 1 -.3,-5.6 a4,3.6 0 0 1 6.8,-1.6 a3,3 0 0 1 4.2,1.8 a2.8,2.8 0 0 1 -.2,5.4 z" fill="url(#cloud)" stroke="#4a6aa8" stroke-width=".9"/>
<defs><linearGradient id="sigl" x1="0" y1="0" x2="1" y2="0"><stop offset="0" stop-color="#3a68d8"/><stop offset="1" stop-color="#b8c8f0"/></linearGradient><linearGradient id="sigr" x1="0" y1="0" x2="1" y2="1"><stop offset="0" stop-color="#e4efe4"/><stop offset="1" stop-color="#3c9c4c"/></linearGradient></defs>
<path d="M146.4,6.8 L146.4,-1.2 A8,8 0 0 1 146.4,14.8 Z" fill="url(#sigr)" opacity=".8"/>
<g fill="none" stroke-width="1.2"><path d="M146.4,-1.2 a8,8 0 0 0 0,16" stroke="url(#sigl)" opacity=".9"/><path d="M146.4,1.8 a5,5 0 0 0 0,10" stroke="url(#sigl)" opacity=".9"/><path d="M146.4,-1.2 a8,8 0 0 1 7.6,10.4" stroke="#6890b8" opacity=".55"/><path d="M146.4,1.8 a5,5 0 0 1 4.6,7" stroke="#88a8c8" opacity=".6"/></g>
<circle cx="146.2" cy="6.6" r="2" fill="#1c50d0"/>
<rect x="146.1" y="7" width="1.4" height="7.8" fill="#18a828"/>
<path d="M165.5,6 L181.5,5.5 L172.5,14.8 Z" fill="url(#face)" stroke="#d0a018" stroke-width=".6"/>
<path d="M170,-1 h5 l1.2,2.2 q4,.4 4.6,1.8 q-.8,2.6 -7.8,3 q-7,.2 -8,-2.6 q.6,-1.6 3.8,-2.2 z" fill="url(#hat)" stroke="#2a88c0" stroke-width=".5"/>
<circle cx="177.3" cy="10.6" r="4.3" fill="url(#redb)"/>
<rect x="175.8" y="9.2" width="3" height="3" fill="#fff"/>
<text x="186.4" y="9.8" font-family='"Liberation Sans","Noto Sans CJK SC",sans-serif' font-size="12.3" fill="#000" stroke="#000" stroke-width=".2" textLength="47.2" lengthAdjust="spacingAndGlyphs">自动交易</text>
<rect x="241" y="0" width="1" height="19" fill="#a0a0a0" shape-rendering="crispEdges"/>
<rect x="242" y="0" width="1" height="19" fill="#fff" shape-rendering="crispEdges"/>
<rect x="245" y="1" width="3" height="1" fill="#a0a0a0" shape-rendering="crispEdges"/>
<rect x="245" y="3" width="3" height="1" fill="#a0a0a0" shape-rendering="crispEdges"/>
<rect x="245" y="5" width="3" height="1" fill="#a0a0a0" shape-rendering="crispEdges"/>
<rect x="245" y="7" width="3" height="1" fill="#a0a0a0" shape-rendering="crispEdges"/>
<rect x="245" y="9" width="3" height="1" fill="#a0a0a0" shape-rendering="crispEdges"/>
<rect x="245" y="11" width="3" height="1" fill="#a0a0a0" shape-rendering="crispEdges"/>
<rect x="245" y="13" width="3" height="1" fill="#a0a0a0" shape-rendering="crispEdges"/>
<rect x="245" y="15" width="3" height="1" fill="#a0a0a0" shape-rendering="crispEdges"/>
<g fill="#4a4a4a" shape-rendering="crispEdges"><rect x="259" y="1" width="1" height="14"/><rect x="257" y="12" width="14" height="1"/><rect x="258" y="2" width="3" height="1"/><rect x="269" y="11" width="1" height="3"/></g>
<g fill="#0a8a0a" shape-rendering="crispEdges"><rect x="265" y="2" width="1" height="9"/><rect x="265" y="3" width="3" height="1"/><rect x="263" y="9" width="3" height="1"/></g>
<rect x="279" y="0" width="1" height="17" fill="#a0a0a0" shape-rendering="crispEdges"/>
<rect x="281" y="0" width="23" height="17" fill="url(#chk)"/>
<g fill="#4a4a4a" shape-rendering="crispEdges"><rect x="287" y="1" width="1" height="14"/><rect x="285" y="12" width="14" height="1"/><rect x="286" y="2" width="3" height="1"/><rect x="297" y="11" width="1" height="3"/></g>
<rect x="293" y="0" width="1" height="11" fill="#0a9a0a" shape-rendering="crispEdges"/>
<rect x="291.5" y="1.5" width="4" height="7" fill="#50e050" stroke="#0a9a0a" stroke-width="1"/>
<g fill="#4a4a4a" shape-rendering="crispEdges"><rect x="315" y="1" width="1" height="14"/><rect x="313" y="12" width="14" height="1"/><rect x="314" y="2" width="3" height="1"/><rect x="325" y="11" width="1" height="3"/></g>
<path d="M314.5,9.5 Q317.5,7.5 319,5.3 Q320.3,3.8 321.8,5 Q323.5,7 325.8,8" fill="none" stroke="#1a9a2a" stroke-width="1.1"/>
<rect x="336" y="0" width="1" height="17" fill="#a0a0a0" shape-rendering="crispEdges"/>
<line x1="355.2" y1="9" x2="360.5" y2="13.8" stroke="#b88a10" stroke-width="3.2"/>
<line x1="355.4" y1="9" x2="360.3" y2="13.4" stroke="#f0d048" stroke-width="1.6"/>
<circle cx="351" cy="4.8" r="5.6" fill="url(#lens)" stroke="#2a74c4" stroke-width="1.1"/>
<rect x="348" y="4.1" width="6" height="1.6" fill="#3d8ab8"/>
<rect x="350.2" y="1.9" width="1.6" height="6" fill="#3d8ab8"/>
<line x1="383.2" y1="9" x2="388.5" y2="13.8" stroke="#b88a10" stroke-width="3.2"/>
<line x1="383.4" y1="9" x2="388.3" y2="13.4" stroke="#f0d048" stroke-width="1.6"/>
<circle cx="379" cy="4.8" r="5.6" fill="url(#lens)" stroke="#2a74c4" stroke-width="1.1"/>
<rect x="376" y="4.1" width="6" height="1.6" fill="#3d8ab8"/>
<rect x="401" y="-1" width="8" height="7.6" rx=".8" fill="#38a018"/>
<rect x="402.6" y="2" width="5" height="3.4" fill="#fff"/>
<rect x="403.6" y="3" width="3" height=".9" fill="#38a018" opacity=".55"/>
<rect x="409" y="-1" width="8" height="7.6" rx=".8" fill="#2858d0"/>
<rect x="410.6" y="2" width="5" height="3.4" fill="#fff"/>
<rect x="411.6" y="3" width="3" height=".9" fill="#2858d0" opacity=".55"/>
<rect x="401" y="7" width="8" height="7.6" rx=".8" fill="#2858d0"/>
<rect x="402.6" y="10" width="5" height="3.4" fill="#fff"/>
<rect x="403.6" y="11" width="3" height=".9" fill="#2858d0" opacity=".55"/>
<rect x="409" y="7" width="8" height="7.6" rx=".8" fill="#38a018"/>
<rect x="410.6" y="10" width="5" height="3.4" fill="#fff"/>
<rect x="411.6" y="11" width="3" height=".9" fill="#38a018" opacity=".55"/>
<rect x="426" y="0" width="1" height="17" fill="#a0a0a0" shape-rendering="crispEdges"/>
<rect x="431" y="0" width="1" height="17" fill="#a0a0a0" shape-rendering="crispEdges"/>
<rect x="433" y="0" width="23" height="17" fill="url(#chk)"/>
<g fill="#4a4a4a" shape-rendering="crispEdges"><rect x="439" y="1" width="1" height="14"/><rect x="437" y="12" width="14" height="1"/><rect x="438" y="2" width="3" height="1"/><rect x="449" y="11" width="1" height="3"/></g>
<polygon points="444.3,3.3 448.2,6.5 444.3,9.8" fill="#58d868" stroke="#10a020" stroke-width=".9"/>
<rect x="459" y="0" width="1" height="17" fill="#a0a0a0" shape-rendering="crispEdges"/>
<rect x="461" y="0" width="23" height="17" fill="url(#chk)"/>
<g fill="#4a4a4a" shape-rendering="crispEdges"><rect x="467" y="1" width="1" height="14"/><rect x="465" y="12" width="14" height="1"/><rect x="466" y="2" width="3" height="1"/><rect x="477" y="11" width="1" height="3"/></g>
<rect x="473" y="1" width="1" height="10" fill="#1a6aa0" shape-rendering="crispEdges"/>
<path d="M474.5,6.5 L477.3,4 L476.8,6 H479 V7 H476.8 L477.3,9 Z" fill="#d04800"/>
<rect x="488" y="0" width="1" height="17" fill="#a0a0a0" shape-rendering="crispEdges"/>
<path d="M498.5,-2 H506.5 L510,1.5 V11.8 H498.5 Z" fill="#fdfdfd" stroke="#9a9a9a" stroke-width="1"/>
<path d="M502.5,1.5 q-1.5,2.5 0,7" fill="none" stroke="#6a6a5a" stroke-width=".9"/>
<path d="M506.4,5.4 h3.6 v3.8 h3.8 v3.6 h-3.8 v3.8 h-3.6 v-3.8 h-3.8 v-3.6 h3.8 z" fill="url(#gplus)" stroke="#0c8a0c" stroke-width=".7"/>
<polygon points="519.7,5.9 525.5,5.9 522.6,9.2" fill="#000"/>
<circle cx="544" cy="6.4" r="7" fill="#fff" stroke="#1668d0" stroke-width="2.4"/>
<circle cx="544" cy="6.4" r="7.9" fill="none" stroke="#0a4aa8" stroke-width=".6"/>
<path d="M543.3,2.2 V7 H547" fill="none" stroke="#333" stroke-width="1.1"/>
<rect x="543" y="9.3" width="2.4" height=".8" fill="#60a8f0"/>
<polygon points="558.7,5.9 564.5,5.9 561.6,9.2" fill="#000"/>
<rect x="575.5" y="-1" width="15" height="14.4" rx="1" fill="#fff" stroke="#3a76c0" stroke-width="1.2"/>
<rect x="575.5" y="-1" width="15" height="3" fill="#4a88d0"/>
<rect x="576" y="7.2" width="14" height="1.2" fill="#4a88d0"/>
<path d="M577.5,6 l2.5,-.2 l2,-1.4 l2.2,1 l2.8,-1.4 l1.6,.2" fill="none" stroke="#a83010" stroke-width="1.1"/>
<path d="M578.5,11.3 l2,-1 l2,.8 l3,-2 l2.6,2.2" fill="none" stroke="#18a030" stroke-width="1.1"/>
<polygon points="597.7,5.9 603.5,5.9 600.6,9.2" fill="#000"/>
<rect x="609" y="0" width="1" height="19" fill="#a0a0a0" shape-rendering="crispEdges"/>
<rect x="610" y="0" width="1" height="19" fill="#fff" shape-rendering="crispEdges"/>
<rect x="613" y="1" width="3" height="1" fill="#a0a0a0" shape-rendering="crispEdges"/>
<rect x="613" y="3" width="3" height="1" fill="#a0a0a0" shape-rendering="crispEdges"/>
<rect x="613" y="5" width="3" height="1" fill="#a0a0a0" shape-rendering="crispEdges"/>
<rect x="613" y="7" width="3" height="1" fill="#a0a0a0" shape-rendering="crispEdges"/>
<rect x="613" y="9" width="3" height="1" fill="#a0a0a0" shape-rendering="crispEdges"/>
<rect x="613" y="11" width="3" height="1" fill="#a0a0a0" shape-rendering="crispEdges"/>
<rect x="613" y="13" width="3" height="1" fill="#a0a0a0" shape-rendering="crispEdges"/>
<rect x="613" y="15" width="3" height="1" fill="#a0a0a0" shape-rendering="crispEdges"/>
<rect x="619" y="0" width="1" height="17" fill="#a0a0a0" shape-rendering="crispEdges"/>
<rect x="621" y="0" width="23" height="17" fill="url(#chk)"/>
<path d="M627.2,-3 V11.2 L629.8,8.6 L632.3,14.2 L634.3,13.3 L631.8,7.8 L635.4,7.6 Z" fill="#4a4a4a"/>
<g fill="#4a4a4a" shape-rendering="crispEdges"><rect x="659" y="0" width="1" height="6"/><rect x="659" y="9" width="1" height="6"/><rect x="652" y="7" width="6" height="1"/><rect x="661" y="7" width="6" height="1"/></g>
<rect x="676" y="0" width="1" height="17" fill="#a0a0a0" shape-rendering="crispEdges"/>
<rect x="693" y="1" width="1" height="13" fill="#4a4a4a" shape-rendering="crispEdges"/>
<rect x="716" y="7" width="12" height="1" fill="#4a4a4a" shape-rendering="crispEdges"/>
<line x1="743.8" y1="13.9" x2="756" y2="1.8" stroke="#4a4a4a" stroke-width="1.1"/>
<g stroke="#4a4a4a" stroke-width="1.1" fill="none"><line x1="769.8" y1="8.4" x2="781" y2="-0.8"/><line x1="771.5" y1="12.6" x2="784.6" y2="1.6"/><line x1="774.5" y1="13.6" x2="784.6" y2="5.2"/><path d="M772,11.8 l1.2,-5.6 M774.6,9.8 l1.2,-5.6 M777.2,7.6 l1.2,-5.6 M779.8,5.4 l1.2,-5.6 M782.4,3.4 l1,-4.6" stroke-width="1"/></g>
<text x="780.8" y="15.8" font-family='"Liberation Sans",sans-serif' font-weight="bold" font-size="7" fill="#333">E</text>
<line x1="799" y1="0.5" x2="812" y2="0.5" stroke="#4a4a4a" stroke-width="1" stroke-dasharray="1 1" shape-rendering="crispEdges"/>
<line x1="799" y1="3.5" x2="812" y2="3.5" stroke="#4a4a4a" stroke-width="1" stroke-dasharray="1 1" shape-rendering="crispEdges"/>
<line x1="799" y1="7.5" x2="812" y2="7.5" stroke="#4a4a4a" stroke-width="1" stroke-dasharray="1 1" shape-rendering="crispEdges"/>
<line x1="799" y1="11.5" x2="808" y2="11.5" stroke="#4a4a4a" stroke-width="1" stroke-dasharray="1 1" shape-rendering="crispEdges"/>
<text x="808.6" y="15.8" font-family='"Liberation Sans",sans-serif' font-weight="bold" font-size="7" fill="#333">F</text>
<text x="829.8" y="11.9" font-family='"Liberation Sans",sans-serif' font-size="12" fill="#4a4a4a" stroke="#4a4a4a" stroke-width=".3">A</text>
<rect x="856.5" y="1.5" width="11" height="12" fill="none" stroke="#4a4a4a" stroke-width="1" stroke-dasharray="1 1" shape-rendering="crispEdges"/>
<rect x="855" y="0" width="3" height="2" fill="#4a4a4a"/>
<text x="858.3" y="11.6" font-family='"Liberation Sans",sans-serif' font-size="10.8" fill="#4a4a4a" stroke="#4a4a4a" stroke-width=".55">T</text>
<polygon points="883,5 886.5,0.8 890,5 886.5,6" fill="#4a4a4a"/>
<polygon points="890,9.5 893.5,8.6 897,9.5 893.5,13.8" fill="#4a4a4a"/>
<path d="M885,8.3 L887.6,10.6 L891.6,5" fill="none" stroke="#4a4a4a" stroke-width="1.2"/>
<polygon points="903.6,5.9 909.4,5.9 906.5,9.2" fill="#000"/>
<rect x="915" y="0" width="1" height="19" fill="#a0a0a0" shape-rendering="crispEdges"/>
<rect x="916" y="0" width="1" height="19" fill="#fff" shape-rendering="crispEdges"/>
<rect x="919" y="1" width="3" height="1" fill="#a0a0a0" shape-rendering="crispEdges"/>
<rect x="919" y="3" width="3" height="1" fill="#a0a0a0" shape-rendering="crispEdges"/>
<rect x="919" y="5" width="3" height="1" fill="#a0a0a0" shape-rendering="crispEdges"/>
<rect x="919" y="7" width="3" height="1" fill="#a0a0a0" shape-rendering="crispEdges"/>
<rect x="919" y="9" width="3" height="1" fill="#a0a0a0" shape-rendering="crispEdges"/>
<rect x="919" y="11" width="3" height="1" fill="#a0a0a0" shape-rendering="crispEdges"/>
<rect x="919" y="13" width="3" height="1" fill="#a0a0a0" shape-rendering="crispEdges"/>
<rect x="919" y="15" width="3" height="1" fill="#a0a0a0" shape-rendering="crispEdges"/>
<rect x="1067" y="0" width="23" height="17" fill="url(#chk)"/>
<rect x="1065" y="0" width="1" height="17" fill="#a0a0a0" shape-rendering="crispEdges"/>
<text x="930.4" y="11" font-family='"Liberation Sans",sans-serif' font-size="10.2" style="text-rendering:geometricPrecision" fill="#383838" textLength="13" lengthAdjust="spacingAndGlyphs">M1</text>
<text x="958.2" y="11" font-family='"Liberation Sans",sans-serif' font-size="10.2" style="text-rendering:geometricPrecision" fill="#383838" textLength="13.4" lengthAdjust="spacingAndGlyphs">M5</text>
<text x="984.4" y="11" font-family='"Liberation Sans",sans-serif' font-size="10.2" style="text-rendering:geometricPrecision" fill="#383838" textLength="18.2" lengthAdjust="spacingAndGlyphs">M15</text>
<text x="1012.4" y="11" font-family='"Liberation Sans",sans-serif' font-size="10.2" style="text-rendering:geometricPrecision" fill="#383838" textLength="18.4" lengthAdjust="spacingAndGlyphs">M30</text>
<text x="1043.2" y="11" font-family='"Liberation Sans",sans-serif' font-size="10.2" style="text-rendering:geometricPrecision" fill="#383838" textLength="12.3" lengthAdjust="spacingAndGlyphs">H1</text>
<text x="1070.2" y="11" font-family='"Liberation Sans",sans-serif' font-size="10.2" style="text-rendering:geometricPrecision" fill="#383838" textLength="13" lengthAdjust="spacingAndGlyphs">H4</text>
<text x="1099.3" y="11" font-family='"Liberation Sans",sans-serif' font-size="10.2" style="text-rendering:geometricPrecision" fill="#383838" textLength="12.2" lengthAdjust="spacingAndGlyphs">D1</text>
<text x="1127.2" y="11" font-family='"Liberation Sans",sans-serif' font-size="10.2" style="text-rendering:geometricPrecision" fill="#383838" textLength="14.2" lengthAdjust="spacingAndGlyphs">W1</text>
<text x="1153.4" y="11" font-family='"Liberation Sans",sans-serif' font-size="10.2" style="text-rendering:geometricPrecision" fill="#383838" textLength="15.4" lengthAdjust="spacingAndGlyphs">MN</text>
<rect x="1176" y="0" width="1" height="19" fill="#a0a0a0" shape-rendering="crispEdges"/>
<rect x="1177" y="0" width="1" height="19" fill="#fff" shape-rendering="crispEdges"/>
<line x1="1643.6" y1="7.4" x2="1638.6" y2="11.9" stroke="#2060d0" stroke-width="2.4" stroke-dasharray="1.1 .5"/>
<circle cx="1646.6" cy="4.3" r="3.9" fill="#f8f8ff" stroke="#2a5cd0" stroke-width="1.2"/>
<path d="M1663.4,9 a5.8,4.8 0 1 1 4.4,4.4 l-1.6,2.2 l-.4,-2.8 a5.6,4.6 0 0 1 -2.4,-3.8 z" fill="#e4e4ec" stroke="#a4a4a4" stroke-width=".9"/>
<circle cx="1677.4" cy="4.3" r="8.3" fill="url(#redb)"/>
<text x="1676.7" y="8.6" text-anchor="middle" font-family='"Liberation Serif",serif' font-weight="bold" font-size="13" fill="#fff">1</text>
</g></svg></body></html>
